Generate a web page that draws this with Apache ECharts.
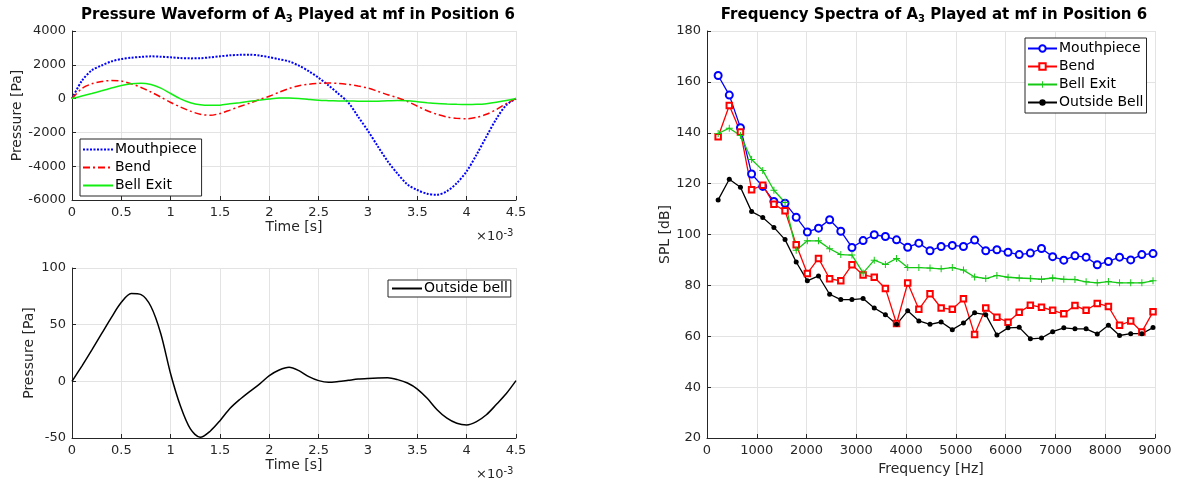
<!DOCTYPE html>
<html>
<head>
<meta charset="utf-8">
<script src="https://cdn.jsdelivr.net/npm/echarts@6/dist/echarts.min.js"></script>
<style>
  html, body { margin: 0; padding: 0; background: #fff; }
  #container { width: 1178px; height: 486px; }
</style>
</head>
<body>
<div id="container"></div>
<script>
const dom = document.getElementById('container')
const myChart = echarts.init(dom)

// time axis, in units of 1e-3 s
const timeMs = [
  0, 0.1, 0.2, 0.3, 0.4, 0.5, 0.6, 0.7, 0.8, 0.9,
  1.0, 1.1, 1.2, 1.3, 1.4, 1.5, 1.6, 1.7, 1.8, 1.9,
  2.0, 2.1, 2.2, 2.3, 2.4, 2.5, 2.6, 2.7, 2.8, 2.9,
  3.0, 3.1, 3.2, 3.3, 3.4, 3.5, 3.6, 3.7, 3.8, 3.9,
  4.0, 4.1, 4.2, 4.3, 4.4, 4.5
]
const mouthpieceWave = [
  0, 1050, 1670, 1960, 2200, 2340, 2420, 2470, 2500, 2480,
  2440, 2400, 2380, 2390, 2440, 2500, 2560, 2590, 2600, 2550,
  2450, 2330, 2200, 1950, 1620, 1230, 780, 290, -230, -1070,
  -1910, -2830, -3710, -4450, -5080, -5410, -5630, -5690, -5480, -5000,
  -4300, -3320, -2250, -1210, -390, 0
]
const bendWave = [
  0, 600, 870, 1010, 1070, 1035, 880, 660, 390, 90,
  -230, -500, -740, -930, -985, -880, -680, -470, -270, -50,
  140, 380, 600, 760, 850, 900, 920, 900, 840, 740,
  625, 430, 230, 50, -170, -450, -720, -930, -1090, -1170,
  -1190, -1110, -930, -650, -300, 0
]
const bellExitWave = [
  0, 150, 300, 460, 625, 780, 880, 910, 830, 620,
  300, -20, -250, -370, -400, -390, -310, -240, -160, -90,
  -20, 35, 40, 10, -50, -100, -120, -135, -140, -150,
  -160, -150, -130, -110, -130, -180, -240, -290, -320, -340,
  -350, -340, -300, -220, -110, 0
]
const outsideWave = [
  0, 13.5, 27.5, 42, 56.5, 69.7, 77.5, 76.5, 66, 42,
  6.5, -22, -42, -49.4, -44, -34.7, -24, -16, -9, -2.5,
  5, 10, 12.4, 9.4, 4.1, 0.6, -0.9, -0.2, 0.9, 2,
  2.6, 3, 3.2, 1.5, -1.5, -6.8, -15, -25, -32.5, -37,
  -38.5, -35.5, -29.5, -20.5, -11, 0.6
]

// harmonic frequencies [Hz]
const freqs = [
  224, 448, 672, 896, 1120, 1344, 1568, 1792, 2016, 2240,
  2464, 2688, 2912, 3136, 3360, 3584, 3808, 4032, 4256, 4480,
  4704, 4928, 5152, 5376, 5600, 5824, 6048, 6272, 6496, 6720,
  6944, 7168, 7392, 7616, 7840, 8064, 8288, 8512, 8736, 8960
]
const mouthpieceSpl = [
  162.5, 154.8, 142, 123.8, 118.9, 113, 112.3, 106.8, 101, 102.5,
  105.8, 101.3, 94.9, 97.6, 99.9, 99.2, 97.9, 95, 96.6, 93.6,
  95.3, 95.7, 95.3, 97.8, 93.6, 94, 93, 92.1, 92.7, 94.5,
  91.3, 89.9, 91.6, 91.1, 88.1, 89.4, 91.1, 90, 92.1, 92.5
]
const bendSpl = [
  138.4, 150.7, 140.3, 117.6, 119.4, 111.9, 109.3, 96, 84.7, 90.6,
  82.6, 81.8, 88.1, 84.1, 83.2, 78.8, 65, 80.9, 70.6, 76.7,
  71.1, 70.6, 74.7, 60.7, 71.1, 67.5, 65.5, 69.4, 72.2, 71.4,
  70.2, 68.8, 72.1, 70.2, 72.9, 71.7, 64.3, 66, 61.7, 69.6
]
const bellExitSpl = [
  139.7, 141.8, 138.9, 129.5, 125.2, 117.4, 112.6, 93.8, 97.5, 97.5,
  94.4, 92.1, 91.9, 84.9, 89.9, 88.2, 90.6, 87, 87, 86.8,
  86.5, 87, 86, 83.3, 82.7, 83.9, 83.2, 82.9, 82.7, 82.4,
  82.9, 82.4, 82.3, 81.4, 81, 81.5, 81, 81, 81, 81.8
]
const outsideSpl = [
  113.6, 121.7, 118.6, 109, 106.7, 102.8, 98, 89.2, 81.8, 83.7,
  76.5, 74.4, 74.4, 74.8, 71.1, 68.5, 64.7, 70, 66, 64.7,
  65.6, 62.6, 65.2, 69.2, 68.5, 60.5, 63.3, 63.5, 59, 59.3,
  61.8, 63.3, 62.9, 62.9, 60.9, 64.3, 60.3, 61, 61, 63.4
]

const FONT = 'DejaVu Sans'
const INK = '#262626'
const GRID = '#e3e3e3'

const pairs = (xs, ys) => xs.map((x, i) => [x, ys[i]])

function valueAxis (extra) {
  return Object.assign({
    type: 'value',
    axisLine: { show: true, onZero: false, lineStyle: { color: INK, width: 1 } },
    axisTick: { show: true, inside: true, length: 4, lineStyle: { color: INK } },
    axisLabel: { color: INK, fontFamily: FONT, fontSize: 13, margin: 6, formatter: v => String(v) },
    splitLine: { show: true, lineStyle: { color: GRID, width: 1 } },
    nameLocation: 'middle',
    nameTextStyle: { color: INK, fontFamily: FONT, fontSize: 14 }
  }, extra)
}

const titleRich = {
  b: { fontFamily: FONT, fontSize: 15, fontWeight: 'bold', color: '#000', lineHeight: 18 },
  s: { fontFamily: FONT, fontSize: 10, fontWeight: 'bold', color: '#000', lineHeight: 12, padding: [8, 0, 0, 0] }
}

const legendBase = {
  orient: 'vertical',
  backgroundColor: '#fff',
  borderColor: INK,
  borderWidth: 1,
  borderRadius: 0,
  itemGap: 1,
  itemHeight: 8,
  selectedMode: false,
  textStyle: { color: '#000', fontFamily: FONT, fontSize: 14, lineHeight: 17, padding: [0, 0, 0, -3] }
}

// waveform legends show the line sample only
const lineOnly = { itemStyle: { opacity: 0, color: 'rgba(0,0,0,0)', borderWidth: 0 } }

const option = {
  animation: false,
  backgroundColor: '#fff',
  title: [
    {
      text: '{b|Pressure Waveform of A}{s|3}{b| Played at mf in Position 6}',
      left: 293, top: 1, textAlign: 'center',
      textStyle: { rich: titleRich }
    },
    {
      text: '{b|Frequency Spectra of A}{s|3}{b| Played at mf in Position 6}',
      left: 929, top: 1, textAlign: 'center',
      textStyle: { rich: titleRich }
    }
  ],
  legend: [
    Object.assign({}, legendBase, lineOnly, {
      left: 80, top: 139, itemWidth: 30,
      padding: [2, 5, 2, 2],
      data: ['Mouthpiece', 'Bend', 'Bell Exit']
    }),
    Object.assign({}, legendBase, lineOnly, {
      left: 388, top: 280, itemWidth: 30,
      padding: [0, 3, 0, 3],
      data: ['Outside bell']
    }),
    Object.assign({}, legendBase, {
      left: 1025, top: 38, itemWidth: 29,
      itemGap: 1,
      padding: [2, 3, 2, 2],
      formatter: name => name.replace('Spectrum ', ''),
      data: ['Spectrum Mouthpiece', 'Spectrum Bend', 'Spectrum Bell Exit', 'Spectrum Outside Bell']
    })
  ],
  grid: [
    { left: 72, right: 662, top: 31, bottom: 286 },
    { left: 72, right: 662, top: 268, bottom: 48 },
    { left: 707, right: 23, top: 31, bottom: 48 }
  ],
  xAxis: [
    valueAxis({ gridIndex: 0, min: 0, max: 4.5, interval: 0.5, name: 'Time [s]', nameGap: 20 }),
    valueAxis({ gridIndex: 1, min: 0, max: 4.5, interval: 0.5, name: 'Time [s]', nameGap: 20 }),
    valueAxis({ gridIndex: 2, min: 0, max: 9000, interval: 1000, name: 'Frequency [Hz]', nameGap: 19 })
  ],
  yAxis: [
    valueAxis({ gridIndex: 0, min: -6000, max: 4000, interval: 2000, name: 'Pressure [Pa]', nameGap: 37 }),
    valueAxis({ gridIndex: 1, min: -50, max: 100, interval: 50, name: 'Pressure [Pa]', nameGap: 36 }),
    valueAxis({ gridIndex: 2, min: 20, max: 180, interval: 20, name: 'SPL [dB]', nameGap: 33 })
  ],
  graphic: [
    {
      type: 'text', left: 476, top: 228,
      style: { text: '×10{sup|-3}', fill: INK, font: '13px "DejaVu Sans"',
        rich: { sup: { fontSize: 10, fontFamily: FONT, fill: INK, padding: [0, 0, 8, 0] } } }
    },
    {
      type: 'text', left: 476, top: 466,
      style: { text: '×10{sup|-3}', fill: INK, font: '13px "DejaVu Sans"',
        rich: { sup: { fontSize: 10, fontFamily: FONT, fill: INK, padding: [0, 0, 8, 0] } } }
    }
  ],
  series: [
    {
      name: 'Mouthpiece', type: 'line', xAxisIndex: 0, yAxisIndex: 0,
      symbol: 'none', smooth: 0.3, color: '#0000ff',
      lineStyle: { color: '#0000ff', width: 2, type: [2, 1.5] },
      data: pairs(timeMs, mouthpieceWave)
    },
    {
      name: 'Bend', type: 'line', xAxisIndex: 0, yAxisIndex: 0,
      symbol: 'none', smooth: 0.3, color: '#ff0000',
      lineStyle: { color: '#ff0000', width: 1.5, type: [7, 3, 2, 3] },
      data: pairs(timeMs, bendWave)
    },
    {
      name: 'Bell Exit', type: 'line', xAxisIndex: 0, yAxisIndex: 0,
      symbol: 'none', smooth: 0.3, color: '#11ee11',
      lineStyle: { color: '#11ee11', width: 1.5 },
      data: pairs(timeMs, bellExitWave)
    },
    {
      name: 'Outside bell', type: 'line', xAxisIndex: 1, yAxisIndex: 1,
      symbol: 'none', smooth: 0.3, color: '#000',
      lineStyle: { color: '#000', width: 1.5 },
      data: pairs(timeMs, outsideWave)
    },
    {
      name: 'Spectrum Mouthpiece', type: 'line', xAxisIndex: 2, yAxisIndex: 2,
      symbol: 'emptyCircle', symbolSize: 7, color: '#0000ff',
      itemStyle: { color: '#0000ff', borderColor: '#0000ff', borderWidth: 1 },
      lineStyle: { color: '#0000ff', width: 1.3 },
      data: pairs(freqs, mouthpieceSpl)
    },
    {
      name: 'Spectrum Bend', type: 'line', xAxisIndex: 2, yAxisIndex: 2,
      symbol: 'emptyRect', symbolSize: 5.5, color: '#ff0000',
      itemStyle: { color: '#ff0000', borderColor: '#ff0000', borderWidth: 0.9 },
      lineStyle: { color: '#ff0000', width: 1.3 },
      data: pairs(freqs, bendSpl)
    },
    {
      name: 'Spectrum Bell Exit', type: 'line', xAxisIndex: 2, yAxisIndex: 2,
      symbol: 'path://M4.3,0H5.7V4.3H10V5.7H5.7V10H4.3V5.7H0V4.3H4.3Z', symbolSize: 7, color: '#14c814',
      itemStyle: { color: '#14c814' },
      lineStyle: { color: '#14c814', width: 1.3 },
      data: pairs(freqs, bellExitSpl)
    },
    {
      name: 'Spectrum Outside Bell', type: 'line', xAxisIndex: 2, yAxisIndex: 2,
      symbol: 'circle', symbolSize: 5, color: '#000',
      itemStyle: { color: '#000' },
      lineStyle: { color: '#000', width: 1.3 },
      data: pairs(freqs, outsideSpl)
    }
  ]
}

myChart.setOption(option)
</script>
</body>
</html>
